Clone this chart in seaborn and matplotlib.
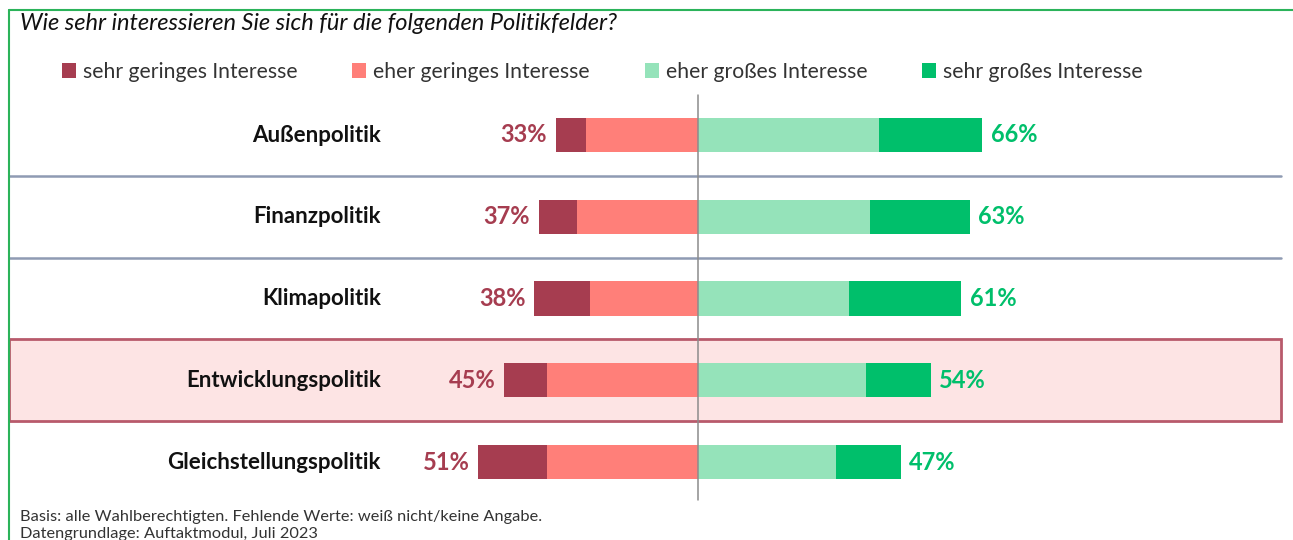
import matplotlib
matplotlib.use("Agg")
import matplotlib.pyplot as plt
from matplotlib.patches import Patch, Rectangle
import matplotlib.transforms as mtransforms
import seaborn as sns
import pandas as pd

# ---- data ----
categories = ["Außenpolitik", "Finanzpolitik", "Klimapolitik",
              "Entwicklungspolitik", "Gleichstellungspolitik"]
sehr_gering = [7, 9, 13, 10, 16]
eher_gering = [26, 28, 25, 35, 35]
eher_gross = [42, 40, 35, 39, 32]
sehr_gross = [24, 23, 26, 15, 15]
legend_labels = ["sehr geringes Interesse", "eher geringes Interesse",
                 "eher großes Interesse", "sehr großes Interesse"]
title = "Wie sehr interessieren Sie sich für die folgenden Politikfelder?"
footer = ["Basis: alle Wahlberechtigten. Fehlende Werte: weiß nicht/keine Angabe.",
          "Datengrundlage: Auftaktmodul, Juli 2023"]
highlight = "Entwicklungspolitik"

# ---- colours ----
C_DRED = "#A63D50"
C_LRED = "#FF7F79"
C_LGRN = "#95E3BA"
C_DGRN = "#00BF6B"
C_TXT_RED = "#A63D50"
C_TXT_GRN = "#00BF6B"

sns.set_theme(style="white")
plt.rcParams["font.family"] = ["Lato", "DejaVu Sans"]

left_tot = [a + b for a, b in zip(sehr_gering, eher_gering)]
right_tot = [a + b for a, b in zip(eher_gross, sehr_gross)]
df = pd.DataFrame({
    "cat": categories,
    "left_tot": [-v for v in left_tot],
    "left_light": [-v for v in eher_gering],
    "right_tot": right_tot,
    "right_light": eher_gross,
})

W, H = 1293, 540
fig = plt.figure(figsize=(W / 100, H / 100), dpi=100)
ax = fig.add_axes([0, 0, 1, 1])

px_per_pct = 4.31
center_px = 698
xlim = (-center_px / px_per_pct, (W - center_px) / px_per_pct)
row0_px, row_step = 135, 81.75
ylim = ((H - row0_px) / row_step, -row0_px / row_step)

blend = mtransforms.blended_transform_factory(ax.transAxes, ax.transData)

# highlight box
hi = categories.index(highlight)
ax.add_patch(Rectangle((9 / W, hi - 0.5), (1281 - 9) / W, 1.0, transform=blend,
                       facecolor="#FDE4E4", edgecolor="#B85A6B", lw=2, zorder=0))
# separators
for i in range(len(categories) - 1):
    if i in (hi - 1, hi):
        continue
    ax.axhline(i + 0.5, xmin=9 / W, xmax=1281 / W, color="#8F9BB3", lw=1.8, zorder=0.5)

bw = 0.42
kw = dict(data=df, y="cat", orient="h", width=bw, saturation=1, ax=ax, linewidth=0)
sns.barplot(x="left_tot", color=C_DRED, zorder=2, **kw)
sns.barplot(x="left_light", color=C_LRED, zorder=3, **kw)
sns.barplot(x="right_tot", color=C_DGRN, zorder=2, **kw)
sns.barplot(x="right_light", color=C_LGRN, zorder=3, **kw)

ax.set_xlim(*xlim)
ax.set_ylim(*ylim)
ax.set_axis_off()

# centre line
ax.axvline(0, ymin=1 - 500 / H, ymax=1 - 95 / H, color="#8C8C8C", lw=1.1, zorder=4)

# labels
for i, cat in enumerate(categories):
    ax.text(381 / W, i, cat, transform=blend, ha="right", va="center",
            fontsize=16, fontweight="bold", color="#111111")
    ax.text(-left_tot[i] - 2.0, i, f"{left_tot[i]}%", ha="right", va="center",
            fontsize=17, fontweight="bold", color=C_TXT_RED)
    ax.text(right_tot[i] + 2.0, i, f"{right_tot[i]}%", ha="left", va="center",
            fontsize=17, fontweight="bold", color=C_TXT_GRN)

# title
fig.text(20 / W, 1 - 23 / H, title, ha="left", va="center", fontsize=17,
         fontstyle="italic", color="#111111")

# legend
handles = [Patch(facecolor=c, edgecolor="none") for c in (C_DRED, C_LRED, C_LGRN, C_DGRN)]
fig.legend(handles, legend_labels, loc="center left", bbox_to_anchor=(62 / W, 1 - 72 / H),
           ncol=4, frameon=False, fontsize=15.2, handlelength=0.66, handleheight=0.66,
           handletextpad=0.33, columnspacing=2.6, labelcolor="#333333", borderaxespad=0,
           borderpad=0)

# footer
fig.text(20 / W, 1 - 517 / H, footer[0], ha="left", va="center", fontsize=11.8, color="#333333")
fig.text(20 / W, 1 - 534 / H, footer[1], ha="left", va="center", fontsize=11.8, color="#333333")

# green frame (top + left)
fig.add_artist(plt.Line2D([9 / W, 1], [1 - 10 / H, 1 - 10 / H], transform=fig.transFigure,
                          color="#2BB35A", lw=1.5))
fig.add_artist(plt.Line2D([9 / W, 9 / W], [0, 1 - 10 / H], transform=fig.transFigure,
                          color="#2BB35A", lw=1.5))

fig.savefig("out.png", dpi=100, facecolor="white")
